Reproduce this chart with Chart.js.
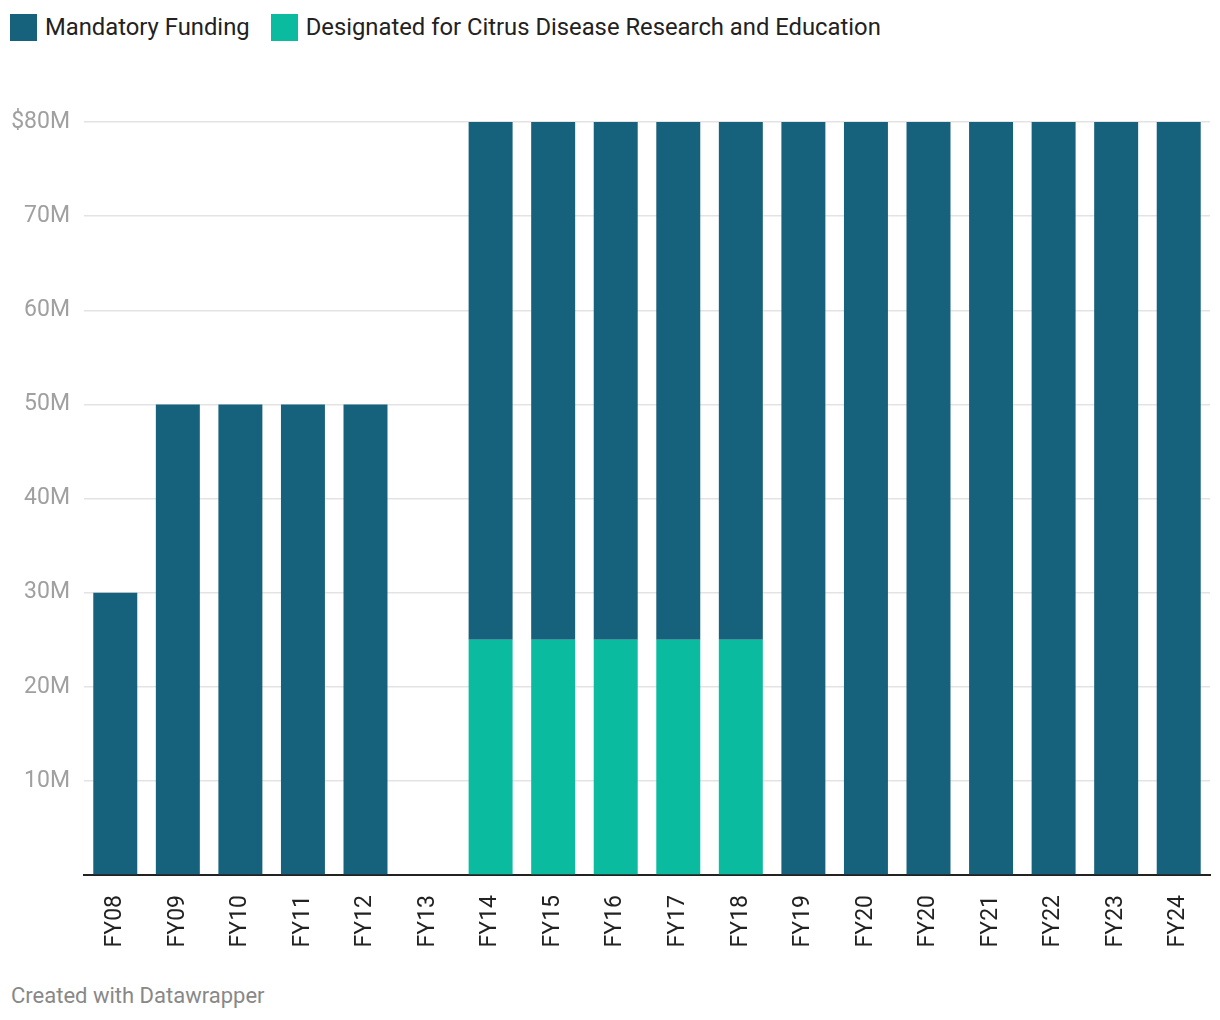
<!DOCTYPE html>
<html>
<head>
<meta charset="utf-8">
<script src="https://cdn.jsdelivr.net/npm/chart.js@4/dist/chart.umd.min.js"></script>
<style>
  body { margin: 0; background: #fff; font-family: Roboto, sans-serif; }
  #wrap { position: relative; width: 1220px; height: 1020px; }
  #legend { position: absolute; left: 10px; top: 13px; display: flex; align-items: center; font-size: 23.8px; color: #222; }
  .item { display: flex; align-items: center; margin-right: 21px; }
  .box { width: 27px; height: 27px; margin-right: 8px; }
  #footer { position: absolute; left: 11px; top: 983px; font-size: 22px; color: #888; }
  canvas { position: absolute; left: 0; top: 0; }
</style>
</head>
<body>
<div id="wrap">
  <div id="legend"></div>
  <canvas id="myChart" width="1220" height="960"></canvas>
  <div id="footer">Created with Datawrapper</div>
</div>
<script>
var fiscalYears = ["FY08","FY09","FY10","FY11","FY12","FY13","FY14","FY15","FY16","FY17","FY18","FY19","FY20","FY20","FY21","FY22","FY23","FY24"];
var mandatory = [30,50,50,50,50,0,55,55,55,55,55,80,80,80,80,80,80,80];
var citrus = [0,0,0,0,0,0,25,25,25,25,25,0,0,0,0,0,0,0];
var yTicks = [10,20,30,40,50,60,70,80];

var darkColor = '#16617b';
var tealColor = '#0bbb9f';

// legend in html
var legendItems = [
  { label: 'Mandatory Funding', color: darkColor },
  { label: 'Designated for Citrus Disease Research and Education', color: tealColor }
];
var legend = document.getElementById('legend');
legendItems.forEach(function(it) {
  var d = document.createElement('div');
  d.className = 'item';
  d.innerHTML = '<span class="box" style="background:' + it.color + '"></span><span>' + it.label + '</span>';
  legend.appendChild(d);
});

var ctx = document.getElementById('myChart');

var chart = new Chart(ctx, {
  type: 'bar',
  data: {
    labels: fiscalYears,
    datasets: [
      {
        label: 'Designated for Citrus Disease Research and Education',
        backgroundColor: tealColor,
        data: citrus
      },
      {
        label: 'Mandatory Funding',
        backgroundColor: darkColor,
        data: mandatory
      }
    ]
  },
  options: {
    responsive: false,
    animation: false,
    layout: { padding: { top: 122, left: 0, right: 10, bottom: 10 } },
    datasets: { bar: { barPercentage: 0.703, categoryPercentage: 1 } },
    plugins: { legend: { display: false }, tooltip: { enabled: false } },
    scales: {
      x: {
        stacked: true,
        grid: { display: false },
        border: { display: true, color: '#222', width: 2 },
        ticks: {
          minRotation: 90, maxRotation: 90, autoSkip: false, padding: 12,
          color: '#222', font: { family: 'Roboto', size: 23 }
        },
        afterFit: function(scale) { scale.height = 75; }
      },
      y: {
        stacked: true,
        min: 0, max: 80,
        afterBuildTicks: function(scale) {
          scale.ticks = [0].concat(yTicks).map(function(v) { return { value: v }; });
        },
        grid: { color: '#e3e3e3', lineWidth: 1.5, drawTicks: false },
        border: { display: false },
        ticks: {
          padding: 14,
          color: '#a0a0a0',
          font: { family: 'Roboto', size: 23 },
          callback: function(v) {
            if (v === 0) return '';
            if (v === 80) return '$80M';
            return v + 'M';
          }
        },
        afterFit: function(scale) { scale.width = 84; }
      }
    }
  }
});
</script>
</body>
</html>
